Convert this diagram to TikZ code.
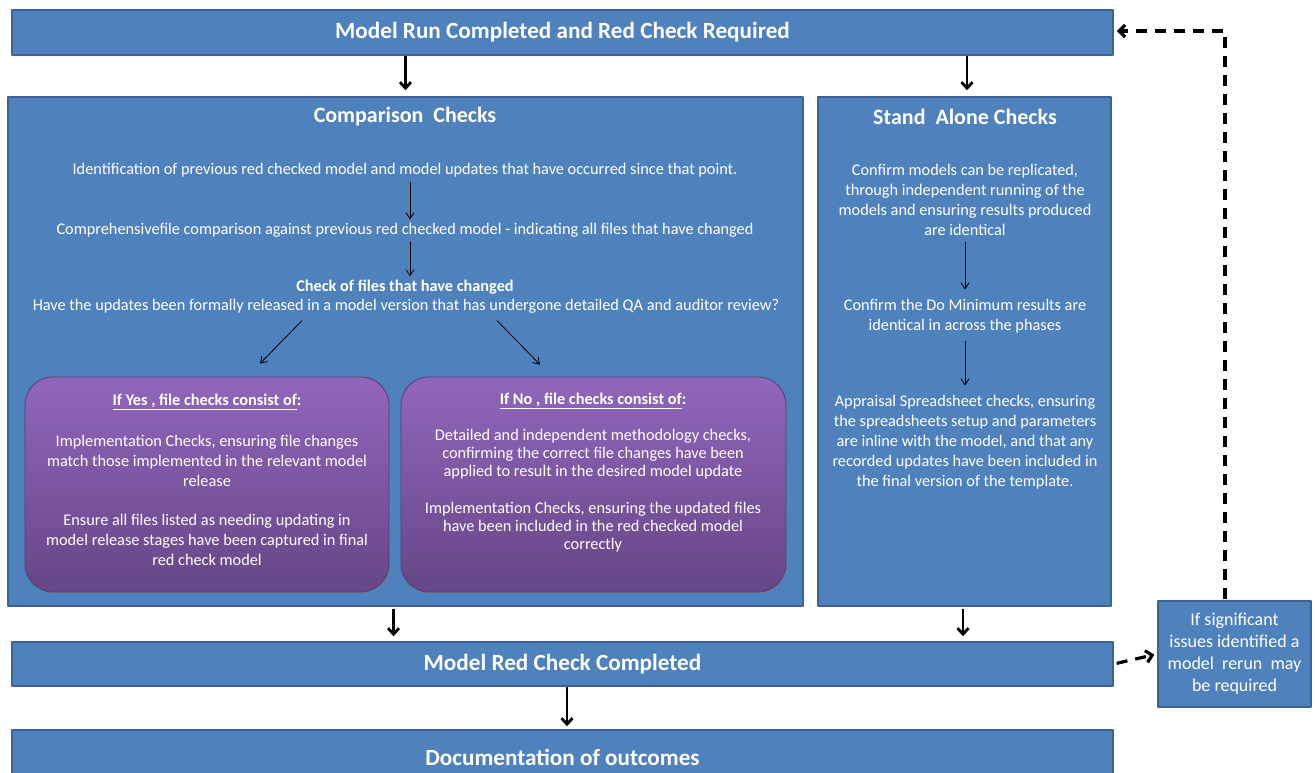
\documentclass[tikz,border=0pt]{standalone}
\usepackage{fontspec}
\setmainfont{Carlito}
\usetikzlibrary{arrows.meta,shadows}
\definecolor{boxblue}{HTML}{4F81BD}
\definecolor{boxedge}{HTML}{3B6494}
\definecolor{purpletop}{HTML}{9166BD}
\definecolor{purplebot}{HTML}{664686}
\begin{document}
\begin{tikzpicture}[x=1pt, y=-1pt, line join=round,
  bluebox/.style={draw=boxedge, line width=1.5pt, fill=boxblue, text=white, inner sep=0pt},
  purplebox/.style={rounded corners=28pt, top color=purpletop, bottom color=purplebot, draw=purplebot!85!black, line width=0.8pt, drop shadow={opacity=0.35, shadow xshift=1pt, shadow yshift=-2pt}, inner sep=0pt},
  head/.style={font=\bfseries\fontsize{23.2}{26}\selectfont, text=white},
  body/.style={font=\fontsize{16.3}{20}\selectfont, text=white, align=center},
  bodybold/.style={body, font=\bfseries\fontsize{16.3}{20}\selectfont},
  bigarrow/.style={-{Straight Barb[length=6pt,width=11pt]}, line width=2.8pt},
  smallarrow/.style={-{Straight Barb[length=6pt,width=8pt]}, line width=0.8pt},
  loopline/.style={line width=3.2pt, dash pattern=on 11pt off 8pt, -{Straight Barb[length=6pt,width=12pt]}}]
  \useasboundingbox[fill=white] (0,0) rectangle (1315,773);
  % main boxes
  \node[bluebox, head, minimum width=1101pt, minimum height=45pt] (run) at (562.5,32.5) {Model Run Completed and Red Check Required};
  \node[bluebox, minimum width=795pt, minimum height=509pt] (comp) at (405.5,351.5) {};
  \node[bluebox, minimum width=293pt, minimum height=509pt] (stand) at (964.5,351.5) {};
  \node[bluebox, head, minimum width=1101pt, minimum height=44pt] (red) at (562.5,664) {Model Red Check Completed};
  \node[bluebox, head, minimum width=1101pt, minimum height=54pt] (doc) at (562.5,757) {Documentation of outcomes};
  \node[bluebox, body, font=\fontsize{18}{22}\selectfont, minimum width=153pt, minimum height=106pt] (issue) at (1234.5,654) {If significant\\issues identified a\\model~ rerun~ may\\be required};
  % comparison checks
  \node[head, font=\bfseries\fontsize{22}{26}\selectfont] (comptitle) at (405,117) {Comparison~ Checks};
  \node[body] (ident) at (405,170) {Identification of previous red checked model and model updates that have occurred since that point.};
  \node[body] (compare) at (405,230) {Comprehensivefile comparison against previous red checked model - indicating all files that have changed};
  \node[bodybold] (changed) at (405,287) {Check of files that have changed};
  \node[body] (query) at (406,306) {Have the updates been formally released in a model version that has undergone detailed QA and auditor review?};
  \node[purplebox, minimum width=364pt, minimum height=215pt] (yes) at (207,484.5) {};
  \node[purplebox, minimum width=385pt, minimum height=215pt] (no) at (593.5,484.5) {};
  \node[bodybold] (yestitle) at (207,402) {\underline{If Yes , file checks consist of}:};
  \node[body] (yestext) at (207,500.5) {Implementation Checks, ensuring file changes\\match those implemented in the relevant model\\release\\[19pt]Ensure all files listed as needing updating in\\model release stages have been captured in final\\red check model};
  \node[bodybold] (notitle) at (593,401) {\underline{If No , file checks consist of}:};
  \node[body, font=\fontsize{16.3}{18}\selectfont] (notext) at (593,490.5) {Detailed and independent methodology checks,\\confirming the correct file changes have been\\applied to result in the desired model update\\[19pt]Implementation Checks, ensuring the updated files\\have been included in the red checked model\\correctly};
  % stand alone checks
  \node[head, font=\bfseries\fontsize{22}{26}\selectfont] (standtitle) at (965,117) {Stand~ Alone Checks};
  \node[body] (rep) at (965,200) {Confirm models can be replicated,\\through independent running of the\\models and ensuring results produced\\are identical};
  \node[body] (domin) at (965,316) {Confirm the Do Minimum results are\\identical in across the phases};
  \node[body] (apprais) at (965,442) {Appraisal Spreadsheet checks, ensuring\\the spreadsheets setup and parameters\\are inline with the model, and that any\\recorded updates have been included in\\the final version of the template.};
  % connectors
  \draw[bigarrow, shorten >=6pt] (run.south -| comp.north) -- (comp.north);
  \draw[bigarrow, shorten >=6pt] ([xshift=2.5pt]run.south -| stand.north) -- ([xshift=2.5pt]stand.north);
  \draw[bigarrow, shorten <=2pt, shorten >=5pt] ([xshift=-12pt]comp.south) -- ([xshift=-12pt]comp.south |- red.north);
  \draw[bigarrow, shorten <=2pt, shorten >=5pt] ([xshift=-1.5pt]stand.south) -- ([xshift=-1.5pt]stand.south |- red.north);
  \draw[bigarrow, shorten >=3pt] ([xshift=4.5pt]red.south) -- ([xshift=4.5pt]doc.north);
  \draw[smallarrow, shorten <=1pt] ([xshift=5pt]ident.south) -- ([xshift=5pt]compare.north);
  \draw[smallarrow, shorten <=1pt] ([xshift=5pt]compare.south) -- ([xshift=5pt]changed.north);
  \draw[smallarrow] ([xshift=-104pt,yshift=-4pt]query.south) -- ([xshift=53pt,yshift=13pt]yes.north);
  \draw[smallarrow] ([xshift=91pt,yshift=-4pt]query.south) -- ([xshift=-53.5pt,yshift=12pt]no.north);
  \draw[smallarrow, shorten <=3pt, shorten >=6pt] (rep.south) -- (domin.north);
  \draw[smallarrow, shorten <=4pt, shorten >=6pt] (domin.south) -- (apprais.north);
  \draw[loopline, shorten <=3pt, shorten >=3pt] (red.east) -- (issue.west);
  \coordinate (corner) at (1225,31);
  \draw[loopline, shorten <=1pt, shorten >=3pt] ([xshift=-9.5pt]issue.north) -- (corner) -- (corner -| run.east);
\end{tikzpicture}
\end{document}
